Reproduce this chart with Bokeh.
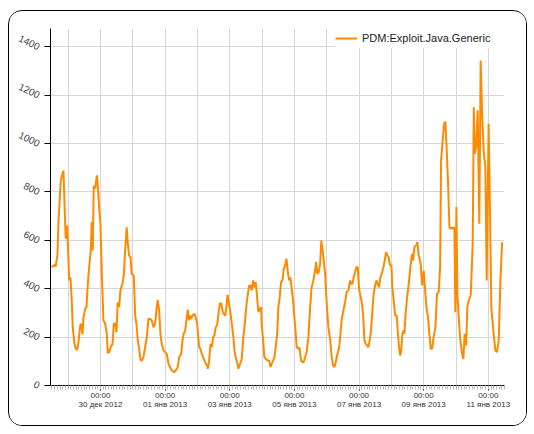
from datetime import datetime, timedelta
from bokeh.plotting import figure
from bokeh.models import Range1d, FixedTicker, Legend
from bokeh.embed import file_html
from bokeh.resources import INLINE

# hours since 2012-12-28 00:00 and detections count
hours = [11.9, 14.4, 14.8, 16.1, 16.8, 18.5, 19.8, 20.5, 21.8, 22.2, 23.3, 24.8, 25.7, 26.7, 27.4,
         28.7, 29.7, 30.7, 31.7, 32.9, 33.7, 34.6, 35.4, 36.6, 37.6, 38.6, 39.6, 40.8, 41.5, 42.3,
         43.0, 44.1, 45.3, 46.0, 47.0, 48.0, 49.0, 50.2, 51.5, 52.7, 53.4, 54.5, 55.9, 56.9, 57.9,
         58.9, 59.9, 60.8, 61.9, 62.8, 64.3, 65.3, 66.3, 67.5, 68.3, 69.3, 70.3, 71.2, 72.7, 73.8,
         74.7, 75.7, 76.7, 77.7, 78.7, 79.9, 81.2, 82.4, 83.6, 84.9, 86.1, 87.3, 88.6, 89.8, 90.5,
         91.6, 92.5, 93.5, 94.8, 96.0, 97.2, 98.5, 99.7, 100.9, 102.7, 103.9, 105.4, 106.4, 107.9,
         108.9, 109.8, 110.9, 112.1, 112.8, 113.8, 114.6, 115.3, 116.3, 117.8, 118.7, 119.8, 121.3,
         122.2, 123.2, 124.2, 125.2, 126.2, 127.2, 127.7, 128.7, 129.7, 130.6, 131.7, 132.6, 133.6,
         134.6, 135.6, 136.6, 137.6, 138.6, 139.5, 140.6, 141.5, 142.3, 143.0, 144.3, 145.5, 146.7,
         147.5, 148.4, 149.7, 150.4, 151.7, 152.9, 154.1, 155.4, 156.6, 157.3, 158.4, 159.3, 160.3,
         161.4, 162.3, 163.3, 164.3, 165.3, 166.3, 167.3, 167.7, 168.8, 169.7, 170.7, 172.2, 173.2,
         174.2, 175.2, 176.2, 177.2, 178.1, 179.2, 180.1, 181.1, 182.1, 183.1, 184.1, 185.1, 186.1,
         187.1, 188.1, 189.0, 190.0, 191.0, 192.0, 193.0, 193.7, 195.0, 195.7, 197.0, 197.9, 198.9,
         199.9, 201.1, 202.4, 203.7, 204.8, 206.1, 207.4, 208.1, 209.1, 210.0, 211.1, 212.0, 213.0,
         214.8, 216.0, 217.2, 218.5, 219.7, 220.7, 221.7, 222.7, 223.7, 225.2, 226.2, 227.2, 228.4,
         229.6, 230.8, 232.1, 233.4, 234.1, 235.1, 236.0, 237.1, 238.0, 239.0, 240.0, 241.0, 242.0,
         243.0, 244.0, 245.0, 246.0, 246.9, 247.9, 248.9, 249.9, 250.9, 251.9, 252.9, 253.8, 254.9,
         255.8, 256.8, 258.1, 258.8, 260.1, 261.0, 262.0, 263.0, 264.0, 264.7, 265.7, 266.8, 268.0,
         268.7, 269.7, 270.5, 271.2, 272.2, 272.9, 273.7, 274.6, 275.7, 276.9, 278.1, 279.4, 280.1,
         281.1, 282.3, 283.3, 284.3, 285.8, 286.8, 288.0, 288.7, 290.0, 291.2, 292.2, 293.2, 294.2,
         295.4, 296.7, 297.9, 299.1, 300.2, 300.9, 302.1, 303.1, 304.1, 305.1, 306.1, 307.1, 308.0,
         309.1, 310.0, 310.8, 311.5, 312.3, 313.0, 314.0, 315.2, 316.5, 317.5, 318.4, 319.5, 320.4,
         321.4, 322.9, 324.4, 325.2, 325.9, 326.9, 328.1, 329.3, 330.3, 331.4, 332.5, 333.8, 334.8,
         335.5, 336.2, 337.3, 338.2, 339.7, 341.2, 342.4, 343.7, 344.9, 346.2]

counts = [489, 500, 491, 544, 675, 847, 875, 888, 668, 606, 661, 434, 447, 351, 241,
          172, 152, 147, 179, 248, 255, 211, 282, 317, 323, 420, 489, 558, 675, 558,
          826, 813, 868, 826, 737, 668, 461, 269, 255, 214, 134, 138, 165, 169, 255,
          257, 220, 344, 324, 393, 420, 454, 558, 654, 586, 537, 530, 461, 454, 289,
          255, 186, 152, 106, 103, 117, 158, 200, 275, 275, 269, 241, 255, 324, 354,
          310, 214, 172, 145, 138, 131, 90, 76, 62, 55, 62, 76, 117, 131,
          186, 214, 227, 282, 313, 269, 289, 275, 289, 296, 282, 255, 158,
          152, 131, 117, 103, 90, 83, 69, 103, 172, 158, 200, 207, 241,
          248, 296, 338, 340, 310, 296, 289, 324, 375, 351, 310, 255, 200,
          145, 117, 90, 69, 90, 110, 200, 269, 344, 372, 413, 413, 393,
          434, 406, 427, 365, 303, 317, 324, 255, 186, 117, 110, 103, 103,
          76, 90, 103, 117, 158, 214, 324, 365, 427, 434, 482, 496, 524,
          468, 434, 447, 400, 351, 282, 214, 158, 152, 158, 103, 96, 96,
          117, 138, 200, 324, 406, 434, 475, 510, 461, 468, 503, 599, 558,
          461, 338, 241, 193, 117, 83, 76, 96, 124, 158, 214, 275, 310,
          344, 386, 393, 434, 420, 420, 447, 468, 489, 489, 400, 372, 344,
          296, 186, 172, 165, 158, 186, 227, 310, 379, 413, 434, 420, 406,
          447, 461, 489, 510, 551, 537, 530, 496, 496, 406, 351, 289, 289,
          227, 158, 124, 138, 214, 227, 214, 296, 365, 420, 489, 544, 516,
          572, 578, 592, 537, 503, 413, 475, 420, 324, 282, 214, 152, 152,
          200, 241, 379, 386, 489, 930, 1012, 1081, 1091, 971, 833, 654, 647,
          654, 647, 654, 303, 737, 379, 282, 186, 131, 110, 214, 165, 324,
          351, 372, 586, 1150, 957, 985, 1137, 668, 1343, 1123, 971, 902, 434,
          751, 1081, 695, 324, 227, 145, 138, 186, 420, 592]

series_name = "PDM:Exploit.Java.Generic"
tick_days = ["2012-12-30", "2013-01-01", "2013-01-03", "2013-01-05",
             "2013-01-07", "2013-01-09", "2013-01-11"]
tick_labels = ["00:00\n30 дек 2012", "00:00\n01 янв 2013", "00:00\n03 янв 2013",
               "00:00\n05 янв 2013", "00:00\n07 янв 2013", "00:00\n09 янв 2013",
               "00:00\n11 янв 2013"]
y_ticks = [0, 200, 400, 600, 800, 1000, 1200, 1400]

start = datetime(2012, 12, 28)
epoch = datetime(1970, 1, 1)


def ms(d):
    return int((d - epoch).total_seconds() * 1000)


xs = [start + timedelta(hours=h) for h in hours]

p = figure(width=519, height=416, x_axis_type="datetime", output_backend="svg",
           toolbar_location=None,
           x_range=Range1d(start + timedelta(hours=10.9), start + timedelta(hours=348)),
           y_range=Range1d(0, 1475),
           min_border_left=41, min_border_right=24, min_border_top=17, min_border_bottom=42)
p.styles = {"border": "1px solid #000", "border-radius": "14px", "overflow": "hidden",
            "margin-left": "8px", "margin-top": "10px"}
p.outline_line_color = None
p.background_fill_color = "white"
p.border_fill_color = "white"

r = p.line(xs, counts, line_color="#ff8a00", line_width=2)
legend = Legend(items=[(series_name, [r])], location="top_right")
legend.border_line_color = None
legend.background_fill_color = "white"
legend.background_fill_alpha = 1.0
legend.margin = 0
legend.padding = 8
legend.glyph_width = 22
legend.label_standoff = 5
legend.label_width = 142
legend.label_text_font = "Liberation Sans"
legend.label_text_font_size = "11px"
legend.label_text_color = "#222222"
p.add_layout(legend)

tick_ms = [ms(datetime.strptime(d, "%Y-%m-%d")) for d in tick_days]
day_ms = [ms(start + timedelta(days=i)) for i in range(1, 15)]
minor_ms = [ms(start + timedelta(hours=h)) for h in range(12, 349, 2)]

xa = p.xaxis[0]
xa.ticker = FixedTicker(ticks=tick_ms, minor_ticks=minor_ms)
xa.major_label_overrides = {t: lab for t, lab in zip(tick_ms, tick_labels)}
xa.major_label_text_font = "Liberation Sans"
xa.major_label_text_font_size = "8px"
xa.major_label_text_color = "#333333"
xa.major_label_text_line_height = 1.0
xa.major_label_standoff = 0
xa.axis_line_color = "black"
xa.major_tick_line_color = "black"
xa.major_tick_out = 5
xa.major_tick_in = 0
xa.minor_tick_line_color = "#bbbbbb"
xa.minor_tick_out = 4
xa.minor_tick_in = 0

ya = p.yaxis[0]
ya.ticker = FixedTicker(ticks=y_ticks, minor_ticks=[])
ya.major_label_orientation = -0.44
ya.major_label_text_font = "Liberation Sans"
ya.major_label_text_font_size = "10px"
ya.major_label_text_color = "#444444"
ya.axis_line_color = "black"
ya.major_tick_line_color = "black"
ya.major_tick_out = 6
ya.major_tick_in = 0
ya.minor_tick_line_color = None

p.xgrid.ticker = FixedTicker(ticks=day_ms)
p.xgrid.grid_line_color = "#d6d6d6"
p.ygrid.grid_line_color = "#d6d6d6"

open("out.html", "w").write(file_html(p, INLINE))
